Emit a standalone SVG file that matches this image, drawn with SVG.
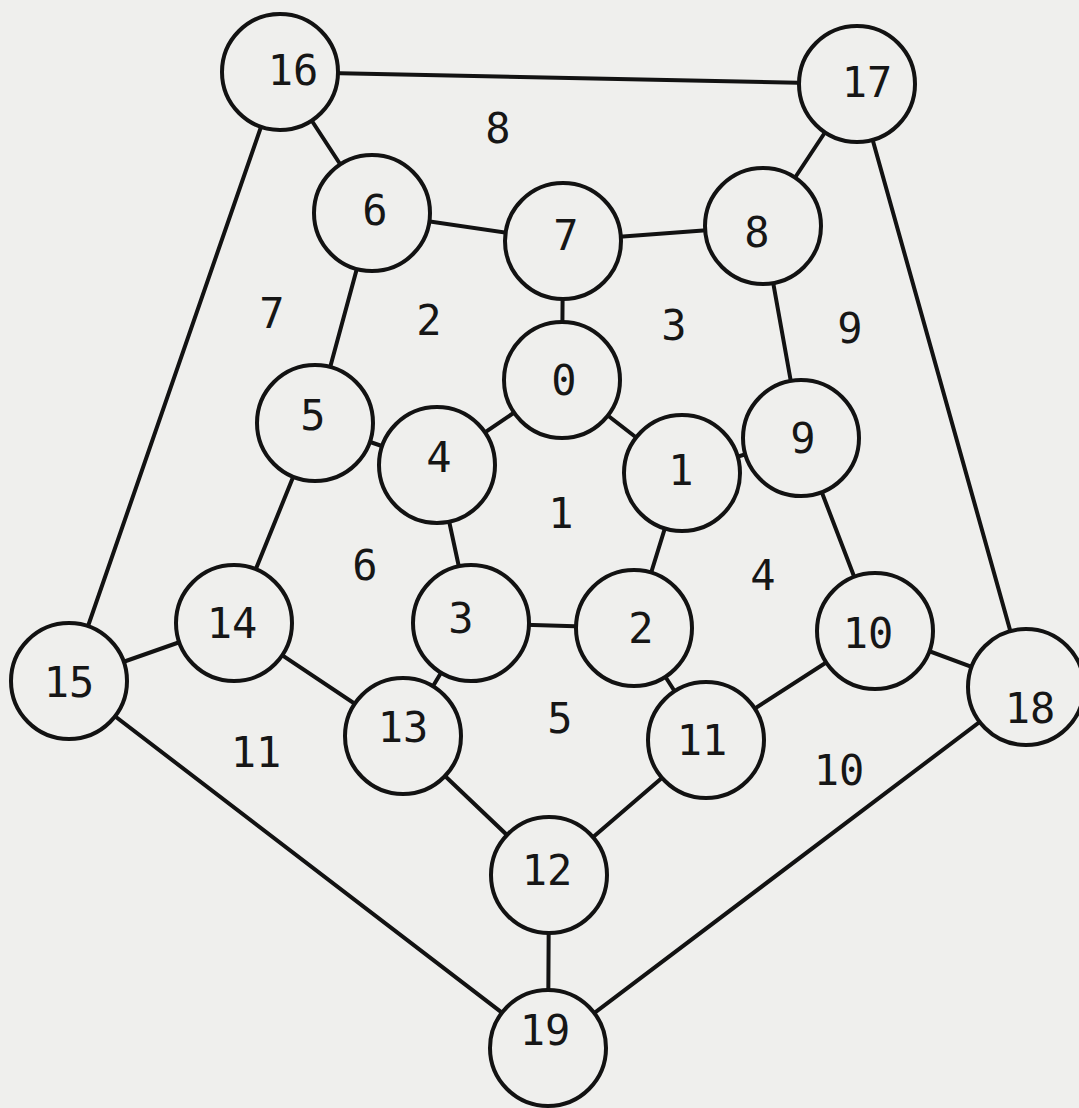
<svg xmlns="http://www.w3.org/2000/svg" width="1079" height="1108" viewBox="0 0 1079 1108">
<style>
.bg{fill:#efefed}
.edge{stroke:#121212;stroke-width:4;fill:none;stroke-linecap:round}
.node circle{fill:#efefed;stroke:#121212;stroke-width:4}
text{font-family:"DejaVu Sans Mono","Liberation Mono",monospace;font-size:42px;fill:#161616;text-anchor:middle}
</style>
<rect class="bg" x="0" y="0" width="1079" height="1108"/>
<g id="connectors">
<line class="edge" x1="280" y1="72" x2="857" y2="84"/>
<line class="edge" x1="280" y1="72" x2="372" y2="213"/>
<line class="edge" x1="280" y1="72" x2="69" y2="681"/>
<line class="edge" x1="857" y1="84" x2="763" y2="226"/>
<line class="edge" x1="857" y1="84" x2="1026" y2="687"/>
<line class="edge" x1="372" y1="213" x2="563" y2="241"/>
<line class="edge" x1="563" y1="241" x2="763" y2="226"/>
<line class="edge" x1="372" y1="213" x2="315" y2="423"/>
<line class="edge" x1="563" y1="241" x2="562" y2="380"/>
<line class="edge" x1="763" y1="226" x2="801" y2="438"/>
<line class="edge" x1="562" y1="380" x2="437" y2="465"/>
<line class="edge" x1="562" y1="380" x2="682" y2="473"/>
<line class="edge" x1="315" y1="423" x2="437" y2="465"/>
<line class="edge" x1="315" y1="423" x2="234" y2="623"/>
<line class="edge" x1="682" y1="473" x2="801" y2="438"/>
<line class="edge" x1="682" y1="473" x2="634" y2="628"/>
<line class="edge" x1="437" y1="465" x2="471" y2="623"/>
<line class="edge" x1="801" y1="438" x2="875" y2="631"/>
<line class="edge" x1="471" y1="623" x2="634" y2="628"/>
<line class="edge" x1="471" y1="623" x2="403" y2="736"/>
<line class="edge" x1="634" y1="628" x2="706" y2="740"/>
<line class="edge" x1="234" y1="623" x2="69" y2="681"/>
<line class="edge" x1="234" y1="623" x2="403" y2="736"/>
<line class="edge" x1="875" y1="631" x2="1026" y2="687"/>
<line class="edge" x1="875" y1="631" x2="706" y2="740"/>
<line class="edge" x1="403" y1="736" x2="549" y2="875"/>
<line class="edge" x1="706" y1="740" x2="549" y2="875"/>
<line class="edge" x1="549" y1="875" x2="548" y2="1048"/>
<line class="edge" x1="69" y1="681" x2="548" y2="1048"/>
<line class="edge" x1="1026" y1="687" x2="548" y2="1048"/>
</g>
<g id="n0" class="node"><circle cx="562" cy="380" r="58"/><text x="564" y="395">0</text></g>
<g id="n1" class="node"><circle cx="682" cy="473" r="58"/><text x="681" y="485">1</text></g>
<g id="n2" class="node"><circle cx="634" cy="628" r="58"/><text x="641" y="643">2</text></g>
<g id="n3" class="node"><circle cx="471" cy="623" r="58"/><text x="461" y="633">3</text></g>
<g id="n4" class="node"><circle cx="437" cy="465" r="58"/><text x="439" y="472">4</text></g>
<g id="n5" class="node"><circle cx="315" cy="423" r="58"/><text x="313" y="430">5</text></g>
<g id="n6" class="node"><circle cx="372" cy="213" r="58"/><text x="375" y="225">6</text></g>
<g id="n7" class="node"><circle cx="563" cy="241" r="58"/><text x="566" y="250">7</text></g>
<g id="n8" class="node"><circle cx="763" cy="226" r="58"/><text x="757" y="247">8</text></g>
<g id="n9" class="node"><circle cx="801" cy="438" r="58"/><text x="803" y="453">9</text></g>
<g id="n10" class="node"><circle cx="875" cy="631" r="58"/><text x="868" y="648">10</text></g>
<g id="n11" class="node"><circle cx="706" cy="740" r="58"/><text x="702" y="755">11</text></g>
<g id="n12" class="node"><circle cx="549" cy="875" r="58"/><text x="547" y="885">12</text></g>
<g id="n13" class="node"><circle cx="403" cy="736" r="58"/><text x="403" y="742">13</text></g>
<g id="n14" class="node"><circle cx="234" cy="623" r="58"/><text x="232" y="638">14</text></g>
<g id="n15" class="node"><circle cx="69" cy="681" r="58"/><text x="69" y="697">15</text></g>
<g id="n16" class="node"><circle cx="280" cy="72" r="58"/><text x="293" y="85">16</text></g>
<g id="n17" class="node"><circle cx="857" cy="84" r="58"/><text x="867" y="97">17</text></g>
<g id="n18" class="node"><circle cx="1026" cy="687" r="58"/><text x="1030" y="723">18</text></g>
<g id="n19" class="node"><circle cx="548" cy="1048" r="58"/><text x="545" y="1045">19</text></g>
<g id="faces">
<text x="498" y="143">8</text>
<text x="272" y="328">7</text>
<text x="429" y="335">2</text>
<text x="674" y="340">3</text>
<text x="850" y="343">9</text>
<text x="561" y="528">1</text>
<text x="365" y="580">6</text>
<text x="763" y="590">4</text>
<text x="560" y="733">5</text>
<text x="256" y="767">11</text>
<text x="839" y="785">10</text>
</g>
</svg>
